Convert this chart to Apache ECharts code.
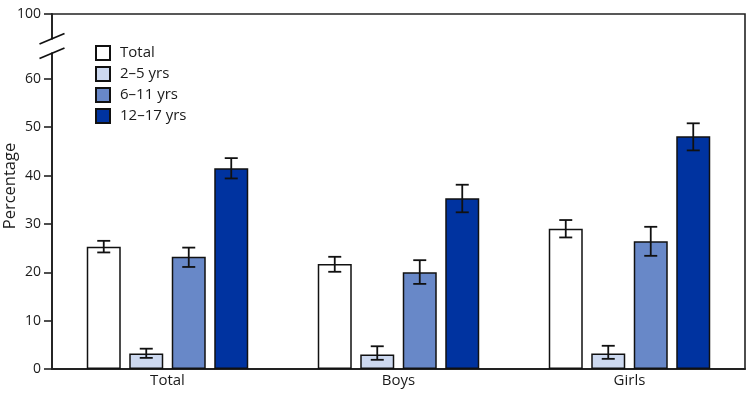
<!DOCTYPE html>
<html>
<head>
<meta charset="utf-8">
<script src="https://cdn.jsdelivr.net/npm/echarts@6/dist/echarts.min.js"></script>
<style>
html,body{margin:0;padding:0;background:#fff;}
#chart{width:750px;height:394px;}
</style>
</head>
<body>
<div id="chart"></div>
<script>
// ---- data ----
var categories = ['Total', 'Boys', 'Girls'];
var seriesNames = ['Total', '2\u20135 yrs', '6\u201311 yrs', '12\u201317 yrs'];
var valTotal  = [25.3, 21.7, 29.0];
var val2to5   = [3.2, 3.0, 3.2];
var val6to11  = [23.2, 20.0, 26.4];
var val12to17 = [41.5, 35.3, 48.1];
var lowTotal  = [24.1, 20.1, 27.2];
var highTotal = [26.5, 23.2, 30.8];
var low2to5   = [2.3, 1.9, 2.1];
var high2to5  = [4.2, 4.7, 4.8];
var low6to11  = [21.1, 17.6, 23.4];
var high6to11 = [25.1, 22.5, 29.4];
var low12to17 = [39.4, 32.4, 45.2];
var high12to17= [43.6, 38.1, 50.8];
var yTickValues = [0, 10, 20, 30, 40, 50, 60];
var yTopLabel = '100';
// ---- end data ----

var values = [valTotal, val2to5, val6to11, val12to17];
var lows = [lowTotal, low2to5, low6to11, low12to17];
var highs = [highTotal, high2to5, high6to11, high12to17];
var colors = ['#ffffff', '#cdd9f0', '#6888c8', '#0033a0'];
var FONT = '"Open Sans", "Noto Sans", sans-serif';
var BAR_W = 34, BAR_GAP = 0.25;
var AXIS_TOP = 73.4; // value at the top of the broken axis, labelled "100"

var chart = echarts.init(document.getElementById('chart'), null, {renderer: 'canvas'});

var series = [];
values.forEach(function (vals, i) {
  series.push({
    name: seriesNames[i],
    type: 'bar',
    data: vals,
    barWidth: BAR_W,
    barGap: (BAR_GAP * 100) + '%',
    itemStyle: {color: colors[i], borderColor: '#111', borderWidth: 1.5},
    emphasis: {disabled: true},
    z: 2
  });
});
values.forEach(function (vals, i) {
  var step = BAR_W * (1 + BAR_GAP);
  var offset = (i - (values.length - 1) / 2) * step;
  series.push({
    name: 'err' + i,
    type: 'custom',
    z: 5,
    data: categories.map(function (c, k) { return [k, lows[i][k], highs[i][k]]; }),
    renderItem: function (params, api) {
      var lo = api.coord([api.value(0), api.value(1)]);
      var hi = api.coord([api.value(0), api.value(2)]);
      var x = lo[0] + offset;
      var cap = 6.5;
      var st = {stroke: '#111', lineWidth: 1.8};
      return {
        type: 'group',
        children: [
          {type: 'line', shape: {x1: x, y1: lo[1], x2: x, y2: hi[1]}, style: st},
          {type: 'line', shape: {x1: x - cap, y1: lo[1], x2: x + cap, y2: lo[1]}, style: st},
          {type: 'line', shape: {x1: x - cap, y1: hi[1], x2: x + cap, y2: hi[1]}, style: st}
        ]
      };
    }
  });
});

var option = {
  animation: false,
  backgroundColor: '#fff',
  grid: {left: 52, right: 5, top: 14, bottom: 25, containLabel: false, outerBoundsMode: 'none',
         show: true, borderColor: '#222', borderWidth: 1.6, backgroundColor: 'transparent'},
  legend: {
    data: seriesNames,
    orient: 'vertical',
    left: 90,
    top: 40,
    icon: 'rect',
    itemWidth: 14,
    itemHeight: 14,
    itemGap: 5,
    selectedMode: false,
    textStyle: {fontFamily: FONT, fontSize: 15, color: '#1a1a1a', padding: [0, 0, 0, 5]}
  },
  xAxis: {
    type: 'category',
    data: categories,
    axisLine: {lineStyle: {color: '#222', width: 1.8}},
    axisTick: {show: false},
    axisLabel: {fontFamily: FONT, fontSize: 15, color: '#1a1a1a', margin: 4}
  },
  yAxis: {
    type: 'value',
    min: 0,
    max: AXIS_TOP,
    name: 'Percentage',
    nameLocation: 'middle',
    nameGap: 33,
    nameMoveOverlap: false,
    nameTextStyle: {fontFamily: FONT, fontSize: 16.5, color: '#1a1a1a', padding: [0, 0, 0, 11]},
    splitLine: {show: false},
    axisLine: {show: true, lineStyle: {color: '#222', width: 1.8}},
    axisTick: {show: true, length: 8, lineStyle: {color: '#222', width: 1.6}, customValues: yTickValues.concat([AXIS_TOP])},
    axisLabel: {
      fontFamily: FONT, fontSize: 14, color: '#1a1a1a', margin: 11,
      customValues: yTickValues.concat([AXIS_TOP]),
      formatter: function (v) { return v > 65 ? yTopLabel : String(v); }
    }
  },
  graphic: [
    {type: 'rect', z: 100, shape: {x: 47, y: 39.5, width: 10, height: 13}, style: {fill: '#fff'}},
    {type: 'line', z: 101, shape: {x1: 39.5, y1: 44, x2: 64.5, y2: 33.5}, style: {stroke: '#111', lineWidth: 1.8}},
    {type: 'line', z: 101, shape: {x1: 39.5, y1: 58.5, x2: 64.5, y2: 48}, style: {stroke: '#111', lineWidth: 1.8}}
  ],
  series: series
};
chart.setOption(option);
</script>
</body>
</html>
